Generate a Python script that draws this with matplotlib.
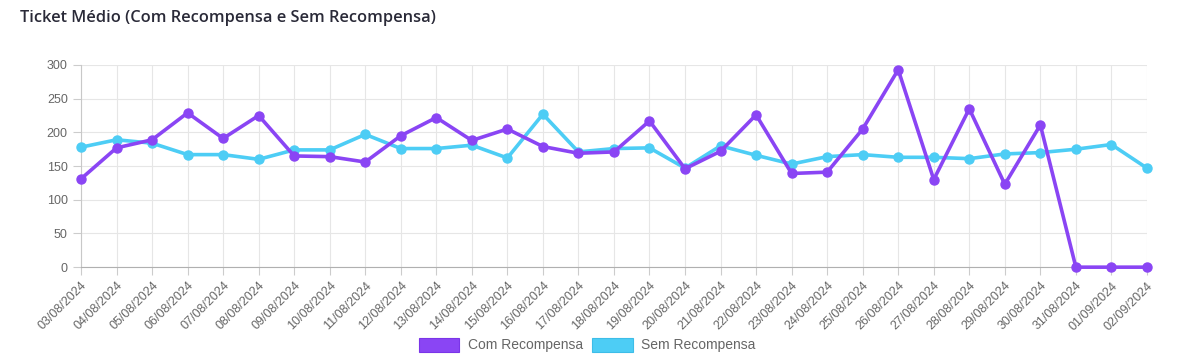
import matplotlib.pyplot as plt
from matplotlib.patches import Patch

# dados
datas = ['03/08/2024', '04/08/2024', '05/08/2024', '06/08/2024', '07/08/2024', '08/08/2024',
         '09/08/2024', '10/08/2024', '11/08/2024', '12/08/2024', '13/08/2024', '14/08/2024',
         '15/08/2024', '16/08/2024', '17/08/2024', '18/08/2024', '19/08/2024', '20/08/2024',
         '21/08/2024', '22/08/2024', '23/08/2024', '24/08/2024', '25/08/2024', '26/08/2024',
         '27/08/2024', '28/08/2024', '29/08/2024', '30/08/2024', '31/08/2024', '01/09/2024',
         '02/09/2024']
com_recompensa = [131, 177, 189, 229, 191, 225, 165, 164, 156, 195, 222, 188, 205, 179, 169, 171,
                  217, 146, 172, 226, 139, 141, 205, 293, 130, 235, 123, 211, 0, 0, 0]
sem_recompensa = [178, 189, 184, 167, 167, 160, 174, 174, 197, 176, 176, 181, 162, 227, 171, 176,
                  177, 147, 180, 166, 153, 164, 167, 163, 163, 161, 168, 170, 175, 182, 147]

cor_com = '#8A45F4'
cor_sem = '#4DCDF5'

plt.rcParams['font.family'] = ['Liberation Sans', 'DejaVu Sans']

fig = plt.figure(figsize=(11.91, 3.63), dpi=100)
ax = fig.add_axes([0.068, 0.264, 0.895, 0.557])

x = list(range(len(datas)))
ax.plot(x, sem_recompensa, color=cor_sem, lw=2.6, marker='o', ms=6.5, zorder=3, clip_on=False)
ax.plot(x, com_recompensa, color=cor_com, lw=2.6, marker='o', ms=6.5, zorder=4, clip_on=False)

ax.set_xlim(0, len(datas) - 1)
ax.set_ylim(0, 300)
ax.set_yticks(range(0, 301, 50))
ax.set_xticks(x)
ax.set_xticklabels(datas, rotation=45, ha='right', rotation_mode='anchor')
ax.tick_params(axis='both', colors='#cccccc', labelcolor='#666666', labelsize=9, length=6, width=0.8)
ax.tick_params(axis='x', pad=3)

ax.grid(True, color='#e6e6e6', lw=0.8)
ax.set_axisbelow(True)
for s in ['top', 'right']:
    ax.spines[s].set_visible(False)
ax.spines['left'].set_color('#c8c8c8')
ax.spines['bottom'].set_color('#b0b0b0')

fig.text(20 / 1191, 1 - 18 / 363, 'Ticket Médio (Com Recompensa e Sem Recompensa)',
         fontsize=11.8, color='#2a2a38', family='Open Sans', weight='semibold',
         va='center', ha='left')

handles = [Patch(facecolor=cor_com, edgecolor='#7a35e8', lw=0.8, label='Com Recompensa'),
           Patch(facecolor=cor_sem, edgecolor='#3dbde8', lw=0.8, label='Sem Recompensa')]
leg = fig.legend(handles=handles, loc='center', bbox_to_anchor=(0.493, 1 - 345 / 363), ncol=2,
                 frameon=False, fontsize=10, handlelength=2.9, handleheight=1.2,
                 handletextpad=0.6, columnspacing=0.7)
for t in leg.get_texts():
    t.set_color('#666666')

fig.savefig('out.png', dpi=100)
